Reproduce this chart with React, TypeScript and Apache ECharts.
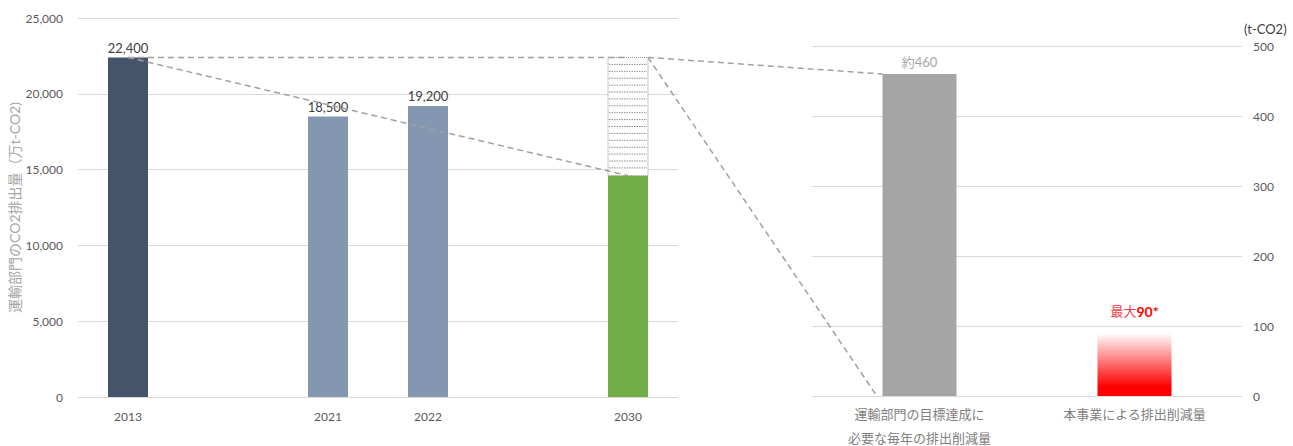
import React, { useEffect, useRef } from "react";
import * as echarts from "echarts";

const categories = ["2013", "", "2021", "2022", "", "2030"];
const emissions = [22400, null, 18500, 19200, null, 14600];
const barColors = ["#44546a", "#44546a", "#8497b0", "#8497b0", "#8497b0", "#70ad47"];
const leftTicks = { min: 0, max: 25000, interval: 5000 };
// 2030 remaining reduction gap: [category index, from, to]
const gap2030 = [[5, 14600, 22400]];

const rightCategories = ["運輸部門の目標達成に\n必要な毎年の排出削減量", "本事業による排出削減量"];
const rightValues = [460, 90];
const rightTicks = { min: 0, max: 500, interval: 100 };

const FONT = "Lato, 'Noto Sans CJK JP', sans-serif";
const fmt = (v: number) => v.toLocaleString("en-US");

export default function App() {
  const ref = useRef<HTMLDivElement>(null);
  useEffect(() => {
    if (!ref.current) return;
    const chart = echarts.init(ref.current, null, { renderer: "svg" });
    const option: any = {
      animation: false,
      textStyle: { fontFamily: FONT },
      grid: [
        { left: 78, right: 615, top: 18, bottom: 49, outerBoundsMode: "none", containLabel: false },
        { left: 812, right: 51, top: 46, bottom: 50, outerBoundsMode: "none", containLabel: false },
      ],
      xAxis: [
        {
          type: "category",
          gridIndex: 0,
          data: categories,
          axisTick: { show: false },
          axisLine: { lineStyle: { color: "#d9d9d9" } },
          axisLabel: { color: "#595959", fontSize: 12, margin: 13, fontFamily: FONT },
        },
        {
          type: "category",
          gridIndex: 1,
          data: rightCategories,
          axisTick: { show: false },
          axisLine: { lineStyle: { color: "#d9d9d9" } },
          axisLabel: { color: "#808080", fontSize: 13, lineHeight: 24, margin: 6, fontFamily: FONT },
        },
      ],
      yAxis: [
        {
          type: "value",
          gridIndex: 0,
          ...leftTicks,
          axisLabel: {
            color: "#595959",
            fontSize: 12,
            margin: 15,
            formatter: (v: number) => fmt(v),
            fontFamily: FONT,
          },
          splitLine: { lineStyle: { color: "#d9d9d9" } },
          name: "運輸部門のCO2排出量（万t-CO2)",
          nameLocation: "middle",
          nameRotate: 90,
          nameGap: 47,
          nameTextStyle: { color: "#a6a6a6", fontSize: 14, fontFamily: FONT },
        },
        {
          type: "value",
          gridIndex: 1,
          position: "right",
          ...rightTicks,
          axisLabel: { color: "#595959", fontSize: 12, margin: 11, fontFamily: FONT },
          splitLine: { lineStyle: { color: "#d9d9d9" } },
          name: "(t-CO2)",
          nameLocation: "end",
          nameGap: 11,
          nameTextStyle: { color: "#404040", fontSize: 13, align: "left", padding: [0, 0, 0, 2], fontFamily: FONT },
        },
      ],
      series: [
        {
          type: "bar",
          xAxisIndex: 0,
          yAxisIndex: 0,
          barWidth: 40,
          data: emissions.map((v, i) =>
            v === null
              ? "-"
              : {
                  value: v,
                  itemStyle: { color: barColors[i] },
                  label: {
                    show: i !== 5,
                    position: "top",
                    distance: 3,
                    color: "#404040",
                    fontSize: 13,
                    fontFamily: FONT,
                    formatter: () => fmt(v),
                  },
                }
          ),
        },
        {
          type: "custom",
          xAxisIndex: 0,
          yAxisIndex: 0,
          data: gap2030,
          renderItem: (params: any, api: any) => {
            const topPt = api.coord([api.value(0), api.value(2)]);
            const botPt = api.coord([api.value(0), api.value(1)]);
            const w = 40;
            const x0 = topPt[0] - w / 2;
            const children: any[] = [
              {
                type: "rect",
                shape: { x: x0, y: topPt[1], width: w, height: botPt[1] - topPt[1] },
                style: { fill: "#ffffff", stroke: "#8c8c8c", lineWidth: 1, lineDash: [1, 1] },
              },
            ];
            for (let y = topPt[1] + 7; y < botPt[1] - 2; y += 6.9) {
              children.push({
                type: "line",
                shape: { x1: x0 + 1, y1: y, x2: x0 + w - 1, y2: y },
                style: { stroke: "#8c8c8c", lineWidth: 1, lineDash: [1.5, 1] },
              });
            }
            return { type: "group", children };
          },
        },
        {
          type: "bar",
          xAxisIndex: 1,
          yAxisIndex: 1,
          barWidth: 74,
          data: [
            {
              value: rightValues[0],
              itemStyle: { color: "#a5a5a5" },
              label: {
                show: true,
                position: "top",
                distance: 6,
                color: "#a6a6a6",
                fontSize: 13,
                fontFamily: FONT,
                formatter: () => "約" + rightValues[0],
              },
            },
            {
              value: rightValues[1],
              itemStyle: {
                color: new echarts.graphic.LinearGradient(0, 0, 0, 1, [
                  { offset: 0, color: "rgba(255,0,0,0)" },
                  { offset: 0.85, color: "#ff0000" },
                  { offset: 1, color: "#ff0000" },
                ]),
              },
              label: {
                show: true,
                position: "top",
                distance: 15,
                formatter: () => "{a|最大}{b|" + rightValues[1] + "*}",
                rich: {
                  a: { color: "#f03c46", fontSize: 13, fontFamily: FONT },
                  b: { color: "#ff0000", fontSize: 14, fontWeight: "bold", fontFamily: FONT },
                },
              },
            },
          ],
        },
      ],
    };
    chart.setOption(option);

    const g0 = { xAxisIndex: 0, yAxisIndex: 0 };
    const g1 = { xAxisIndex: 1, yAxisIndex: 1 };
    const top2013 = chart.convertToPixel(g0, [0, emissions[0] as number]) as number[];
    const top2030 = chart.convertToPixel(g0, [5, gap2030[0][2]]) as number[];
    const green2030 = chart.convertToPixel(g0, [5, emissions[5] as number]) as number[];
    const rTop = chart.convertToPixel(g1, [0, rightValues[0]]) as number[];
    const rBase = chart.convertToPixel(g1, [0, 0]) as number[];
    const style = { stroke: "#a0a0a0", lineWidth: 1.5, lineDash: [6, 4] };
    const line = (a: number[], b: number[]) => ({
      type: "line",
      z: 100,
      silent: true,
      shape: { x1: a[0], y1: a[1], x2: b[0], y2: b[1] },
      style,
    });
    chart.setOption({
      graphic: [
        line(top2013, [top2030[0], top2030[1]]),
        line(top2013, green2030),
        line([top2030[0] + 20, top2030[1]], [rTop[0] - 37, rTop[1]]),
        line([top2030[0] + 20, top2030[1]], [rBase[0] - 44, rBase[1] - 2]),
      ],
    });

    return () => chart.dispose();
  }, []);
  return (
    <div
      ref={ref}
      style={{ position: "absolute", left: 0, top: 0, width: 1293, height: 446 }}
    />
  );
}
